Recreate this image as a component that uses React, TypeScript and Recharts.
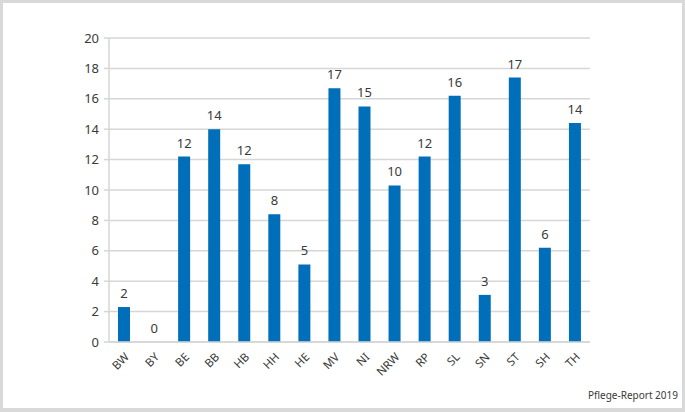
import { Bar, CartesianGrid, ComposedChart, LabelList, Line, XAxis, YAxis } from "recharts";

const states = ["BW", "BY", "BE", "BB", "HB", "HH", "HE", "MV", "NI", "NRW", "RP", "SL", "SN", "ST", "SH", "TH"];
const values = [2.3, 0, 12.2, 14.0, 11.7, 8.4, 5.1, 16.7, 15.5, 10.3, 12.2, 16.2, 3.1, 17.4, 6.2, 14.4];
const labels = [2, 0, 12, 14, 12, 8, 5, 17, 15, 10, 12, 16, 3, 17, 6, 14];
const yTicks = [0, 2, 4, 6, 8, 10, 12, 14, 16, 18, 20];
const boundaries = states.map((_, i) => i).concat(states.length);

const data = states.map((s, i) => ({ state: s, value: values[i], label: labels[i] }));

const W = 685;
const H = 412;
const LEFT = 109;
const RIGHT = 95;
const FONT = "'Noto Sans', 'Open Sans', sans-serif";
const TEXT = "#3a3a3a";
const GRID = "#d6d6d6";

export default function App() {
  return (
    <div style={{ position: "fixed", left: 0, top: 0, width: W, height: H, background: "#d9d9d9" }}>
      <div style={{ position: "absolute", left: 3, top: 3, width: W - 6, height: H - 7, background: "#fff" }} />
      <div style={{ position: "absolute", left: 0, top: 0 }}>
        <ComposedChart width={W} height={H} data={data} margin={{ top: 38, right: RIGHT, bottom: 0, left: 0 }}>
          <CartesianGrid horizontal vertical={false} stroke={GRID} strokeWidth={1.5} />
          {/* tick marks sit between the categories, so they come from a numeric helper axis */}
          <XAxis
            xAxisId="bounds"
            type="number"
            domain={[0, states.length]}
            ticks={boundaries}
            interval={0}
            height={0}
            axisLine={false}
            tickLine={{ stroke: GRID, strokeWidth: 1.5 }}
            tickSize={5}
            tickFormatter={() => ""}
          />
          <XAxis
            xAxisId="cat"
            dataKey="state"
            height={70}
            interval={0}
            axisLine={{ stroke: GRID, strokeWidth: 1.5 }}
            tickLine={false}
            tickMargin={4}
            tick={{ angle: -45, textAnchor: "end", fill: TEXT, fontSize: 11.5, fontFamily: FONT }}
          />
          <YAxis
            width={LEFT}
            domain={[0, 20]}
            ticks={yTicks}
            interval={0}
            axisLine={{ stroke: GRID, strokeWidth: 1.5 }}
            tickLine={{ stroke: GRID, strokeWidth: 1.5 }}
            tickSize={5}
            tickMargin={5}
            tick={{ fill: TEXT, fontSize: 13, fontFamily: FONT }}
          />
          <Bar xAxisId="cat" dataKey="value" fill="#006eb8" barSize={12} isAnimationActive={false} />
          {/* invisible line only carries the value labels, so the zero bar still gets its "0" */}
          <Line xAxisId="cat" dataKey="value" stroke="none" dot={false} activeDot={false} isAnimationActive={false}>
            <LabelList dataKey="label" position="top" offset={9} fill={TEXT} fontSize={13} fontFamily={FONT} />
          </Line>
        </ComposedChart>
      </div>
      <div
        style={{
          position: "absolute",
          right: 7,
          top: 388,
          fontSize: 10,
          fontFamily: FONT,
          color: TEXT,
        }}
      >
        Pflege-Report 2019
      </div>
    </div>
  );
}
